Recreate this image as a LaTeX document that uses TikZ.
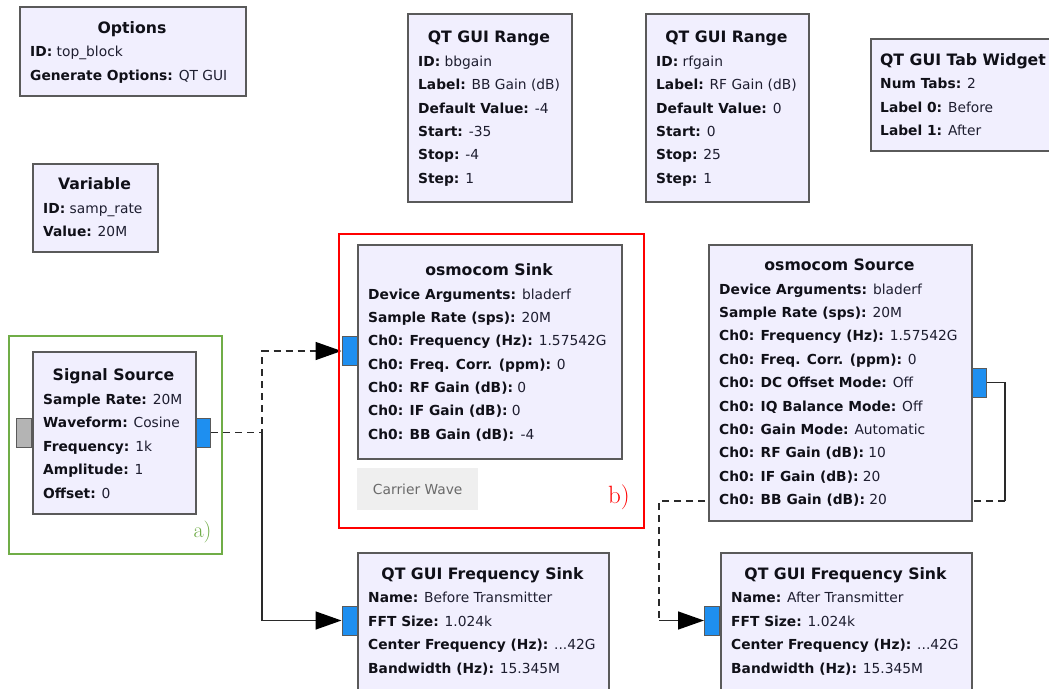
\documentclass[tikz,border=0pt]{standalone}
\usepackage{fontspec}
\setsansfont{DejaVu Sans}
\usetikzlibrary{arrows.meta,calc}
\definecolor{blkfill}{HTML}{F1EFFE}
\definecolor{blkdraw}{HTML}{5A5A5A}
\definecolor{portblue}{HTML}{1E8FF0}
\definecolor{portgrey}{HTML}{B4B4B4}
\definecolor{grn}{HTML}{70AD47}
\definecolor{txtc}{HTML}{101018}
\definecolor{valc}{HTML}{1E1E30}
\definecolor{wirec}{HTML}{2A2A2A}
\definecolor{cwfill}{HTML}{EFEFEF}
\definecolor{cwtext}{HTML}{6A6A6A}
\newcommand\kvline[5]{\node[kv] (#1) at (#2,#3) {\textbf{#4:} {\color{valc}#5}};}
\begin{document}
\begin{tikzpicture}[x=1pt,y=-1pt,
  blk/.style={draw=blkdraw, fill=blkfill, line width=1.5pt, rectangle, inner sep=0pt, anchor=north west},
  port/.style={draw=blkdraw, line width=1pt, fill=portblue, minimum width=15pt, minimum height=29pt, inner sep=0pt},
  ttl/.style={font=\fontsize{15.7}{18}\selectfont\sffamily\bfseries, text=txtc, anchor=base, inner sep=0pt},
  kv/.style={font=\fontsize{13.8}{16}\selectfont\sffamily, text=txtc, anchor=base west, inner sep=0pt},
  wire/.style={draw=wirec, line width=1.5pt},
  arr/.style={-{Triangle[length=26pt,width=18pt,color=black]}},
  dsh/.style={dash pattern=on 7pt off 5pt},
  frame/.style={line width=2pt, inner sep=0pt, anchor=north west, rectangle}
]
\useasboundingbox (0,0) rectangle (1049,688);
\clip (0,0) rectangle (1049,688);
\fill[white] (0,0) rectangle (1049,688);

% ports
\node[port, fill=portgrey] (ss-in) at (24,432.5) {};
\node[port] (ss-out) at (203,432.5) {};
\node[port] (sink-in) at (349.5,351) {};
\node[port] (fs1-in) at (349.5,620.5) {};
\node[port] (src-out) at (979,382.5) {};
\node[port] (fs2-in) at (712,620.5) {};

% wires
\coordinate (j1) at (262,432.5);
\draw[wire, dsh, arr] (ss-out.east) -- (j1) |- (sink-in.west);
\draw[wire] (j1) -- (262,620.5);
\coordinate (j2) at (262,620.5);
\draw[wire, arr] (j2) -- (fs1-in.west);
\coordinate (c1) at (1005,382.5);
\coordinate (c2) at (1005,501);
\coordinate (c3) at (659,501);
\coordinate (c4) at (659,620.5);
\draw[wire] (src-out.east) -- (c1) -- (c2);
\draw[wire, dsh] (c2) -- (c3) -- (c4);
\draw[wire, arr] (c4) -- (fs2-in.west);

% frames
\node[frame, draw=grn, minimum width=213pt, minimum height=218pt] (fa) at (8,335) {};
\node[frame, draw=red, minimum width=305pt, minimum height=294pt] (fb) at (338,233) {};
\node[text=grn, font=\fontsize{22}{24}\selectfont, inner sep=0pt] (la) at (202.5,532) {a)};
\node[text=red, font=\fontsize{25}{27}\selectfont, inner sep=0pt] (lb) at (619,497) {b)};

% Options
\node[blk, minimum width=226pt, minimum height=89pt] (opt) at (19,6) {};
\node[ttl] (opt-t) at (132,33) {Options};
\kvline{opt-1}{30}{56}{ID}{top\_block}
\kvline{opt-2}{30}{80}{Generate Options}{QT GUI}

% Variable
\node[blk, minimum width=125pt, minimum height=88pt] (var) at (32,163) {};
\node[ttl] (var-t) at (94.5,189) {Variable};
\kvline{var-1}{43}{213}{ID}{samp\_rate}
\kvline{var-2}{43}{236}{Value}{20M}

% QT GUI Range bbgain
\node[blk, minimum width=164pt, minimum height=188pt] (bb) at (407,13) {};
\node[ttl] (bb-t) at (489,42) {QT GUI Range};
\kvline{bb-1}{418}{66}{ID}{bbgain}
\kvline{bb-2}{418}{89}{Label}{BB Gain (dB)}
\kvline{bb-3}{418}{113}{Default Value}{-4}
\kvline{bb-4}{418}{136}{Start}{-35}
\kvline{bb-5}{418}{159}{Stop}{-4}
\kvline{bb-6}{418}{183}{Step}{1}

% QT GUI Range rfgain
\node[blk, minimum width=163pt, minimum height=188pt] (rf) at (645,13) {};
\node[ttl] (rf-t) at (726.5,42) {QT GUI Range};
\kvline{rf-1}{656}{66}{ID}{rfgain}
\kvline{rf-2}{656}{89}{Label}{RF Gain (dB)}
\kvline{rf-3}{656}{113}{Default Value}{0}
\kvline{rf-4}{656}{136}{Start}{0}
\kvline{rf-5}{656}{159}{Stop}{25}
\kvline{rf-6}{656}{183}{Step}{1}

% Tab widget
\node[blk, minimum width=190pt, minimum height=112pt] (tab) at (870,38) {};
\node[ttl] (tab-t) at (963,65) {QT GUI Tab Widget};
\kvline{tab-1}{880}{88}{Num Tabs}{2}
\kvline{tab-2}{880}{112}{Label 0}{Before}
\kvline{tab-3}{880}{135}{Label 1}{After}

% Signal Source
\node[blk, minimum width=163pt, minimum height=162pt] (ss) at (32,351) {};
\node[ttl] (ss-t) at (113.5,380) {Signal Source};
\kvline{ss-1}{43}{404}{Sample Rate}{20M}
\kvline{ss-2}{43}{427}{Waveform}{Cosine}
\kvline{ss-3}{43}{451}{Frequency}{1k}
\kvline{ss-4}{43}{474}{Amplitude}{1}
\kvline{ss-5}{43}{498}{Offset}{0}

% osmocom Sink
\node[blk, minimum width=264pt, minimum height=214pt] (sink) at (357,244) {};
\node[ttl] (sink-t) at (489,275) {osmocom Sink};
\kvline{sink-1}{368}{299}{Device Arguments}{bladerf}
\kvline{sink-2}{368}{322.3}{Sample Rate (sps)}{20M}
\kvline{sink-3}{368}{345.7}{Ch0: Frequency (Hz)}{1.57542G}
\kvline{sink-4}{368}{369}{Ch0: Freq. Corr. (ppm)}{0}
\kvline{sink-5}{368}{392.3}{Ch0: RF Gain (dB)}{0}
\kvline{sink-6}{368}{415.7}{Ch0: IF Gain (dB)}{0}
\kvline{sink-7}{368}{439}{Ch0: BB Gain (dB)}{\,-4}

% Carrier Wave
\node[fill=cwfill, inner sep=0pt, minimum width=121pt, minimum height=42pt, anchor=north west] (cw) at (357,468) {};
\node[font=\fontsize{13.8}{16}\selectfont\sffamily, text=cwtext, inner sep=0pt] (cw-t) at (cw.center) {Carrier Wave};

% osmocom Source
\node[blk, minimum width=263pt, minimum height=276pt] (src) at (708,244) {};
\node[ttl] (src-t) at (839.5,270) {osmocom Source};
\kvline{src-1}{719}{294}{Device Arguments}{bladerf}
\kvline{src-2}{719}{317.4}{Sample Rate (sps)}{20M}
\kvline{src-3}{719}{340.8}{Ch0: Frequency (Hz)}{1.57542G}
\kvline{src-4}{719}{364.2}{Ch0: Freq. Corr. (ppm)}{0}
\kvline{src-5}{719}{387.6}{Ch0: DC Offset Mode}{Off}
\kvline{src-6}{719}{411}{Ch0: IQ Balance Mode}{Off}
\kvline{src-7}{719}{434.4}{Ch0: Gain Mode}{Automatic}
\kvline{src-8}{719}{457.8}{Ch0: RF Gain (dB)}{10}
\kvline{src-9}{719}{481.2}{Ch0: IF Gain (dB)}{20}
\kvline{src-10}{719}{504.6}{Ch0: BB Gain (dB)}{20}

% QT GUI Frequency Sink (before)
\node[blk, minimum width=251pt, minimum height=150pt] (fs1) at (357,552) {};
\node[ttl] (fs1-t) at (482.5,579) {QT GUI Frequency Sink};
\kvline{fs1-1}{368}{602}{Name}{Before Transmitter}
\kvline{fs1-2}{368}{626}{FFT Size}{1.024k}
\kvline{fs1-3}{368}{649}{Center Frequency (Hz)}{...42G}
\kvline{fs1-4}{368}{673}{Bandwidth (Hz)}{15.345M}

% QT GUI Frequency Sink (after)
\node[blk, minimum width=251pt, minimum height=150pt] (fs2) at (720,552) {};
\node[ttl] (fs2-t) at (845.5,579) {QT GUI Frequency Sink};
\kvline{fs2-1}{731}{602}{Name}{After Transmitter}
\kvline{fs2-2}{731}{626}{FFT Size}{1.024k}
\kvline{fs2-3}{731}{649}{Center Frequency (Hz)}{...42G}
\kvline{fs2-4}{731}{673}{Bandwidth (Hz)}{15.345M}
\end{tikzpicture}
\end{document}
